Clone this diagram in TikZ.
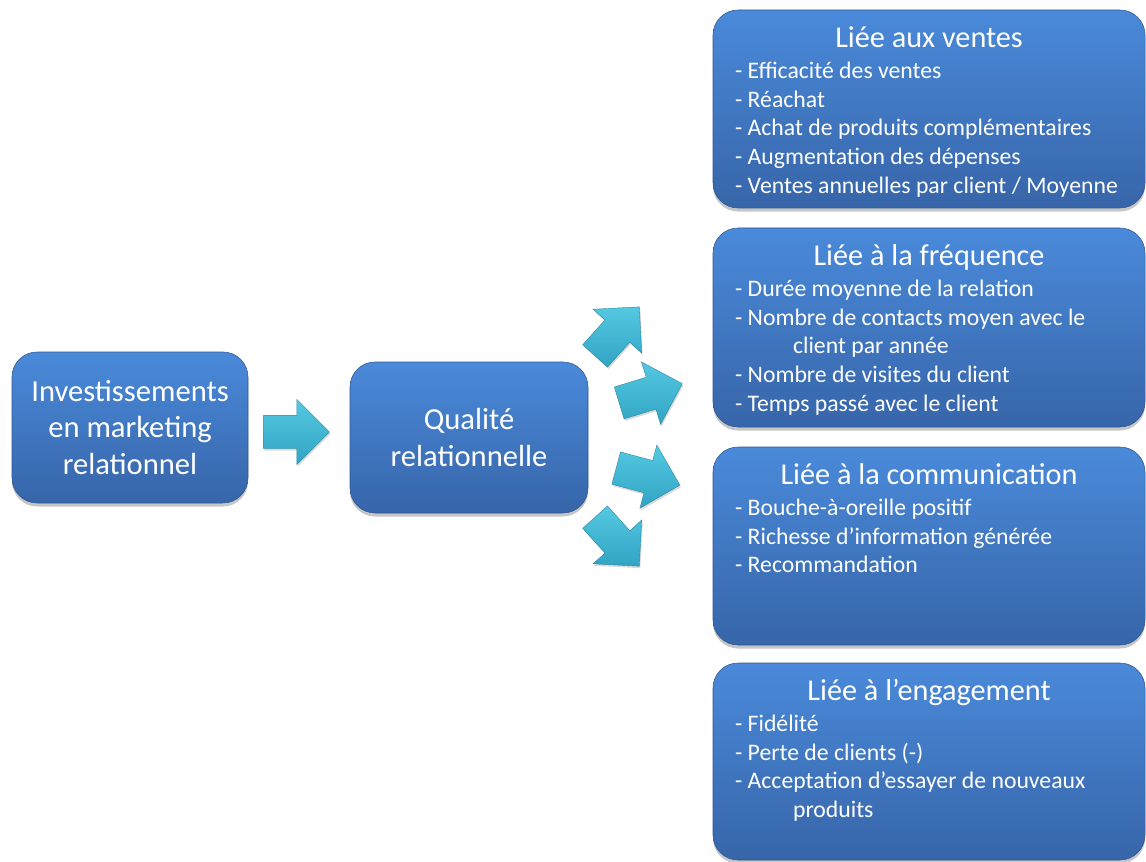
\documentclass[tikz,border=0pt]{standalone}
\usepackage{fontspec}
\setmainfont{Carlito}
\usetikzlibrary{positioning,calc,shapes.arrows,shadows}

\definecolor{boxtop}{HTML}{4A8ADA}
\definecolor{boxbot}{HTML}{3765A9}
\definecolor{fltop}{HTML}{55C8E2}
\definecolor{flbot}{HTML}{30A4C3}

\tikzset{
  bloc/.style={rectangle, rounded corners=0.5cm, top color=boxtop, bottom color=boxbot,
    draw=boxbot!85!black, line width=0.3pt,
    drop shadow={shadow xshift=0pt, shadow yshift=-0.07cm, opacity=0.45}},
  grand/.style={text=white, align=center, font=\fontsize{17.4}{21}\selectfont},
  titre/.style={text=white, inner sep=0pt, text height=0.45cm, text depth=0.12cm,
    font=\fontsize{17.2}{20}\selectfont},
  liste/.style={text=white, inner sep=0pt, align=left,
    font=\fontsize{13.5}{16.3}\selectfont},
  fleche/.style={single arrow, single arrow head extend=0.32cm, inner xsep=0pt, inner ysep=0.33cm,
    minimum height=1.32cm, anchor=tail, top color=fltop, bottom color=flbot, draw=flbot!80!black,
    line width=0.2pt, drop shadow={shadow xshift=0.02cm, shadow yshift=-0.04cm, opacity=0.3}}
}

\begin{document}
\begin{tikzpicture}
\useasboundingbox (0,0) rectangle (22.92,17.22);

% left part
\node[bloc, grand, minimum width=4.72cm, minimum height=3.02cm] (invest) at (2.60,8.67)
  {Investissements\\en marketing\\relationnel};
\node[bloc, grand, minimum width=4.76cm, minimum height=3.02cm] (qualite) at (9.38,8.47)
  {Qualité\\relationnelle};
\node[fleche] (f0) at ([xshift=0.30cm,yshift=-0.09cm]invest.east) {};

% fan of arrows
\node[fleche, rotate=48] (f1) at (11.90,10.10) {};
\node[fleche, rotate=17] (f2) at (12.38,9.16) {};
\node[fleche, rotate=-15] (f3) at (12.32,7.86) {};
\node[fleche, rotate=-48] (f4) at (11.90,6.88) {};

% right column
\node[bloc, minimum width=8.64cm, minimum height=3.96cm] (ventes) at (18.58,15.04) {};
\node[bloc, minimum width=8.64cm, minimum height=3.98cm] (frequence) at (18.58,10.67) {};
\node[bloc, minimum width=8.64cm, minimum height=3.96cm] (communication) at (18.58,6.30) {};
\node[bloc, minimum width=8.64cm, minimum height=3.94cm] (engagement) at (18.58,1.99) {};

\node[titre, below=0.30cm of ventes.north] (tventes) {Liée aux ventes};
\node[titre, below=0.30cm of frequence.north] (tfrequence) {Liée à la fréquence};
\node[titre, below=0.30cm of communication.north] (tcommunication) {Liée à la communication};
\node[titre, below=0.30cm of engagement.north] (tengagement) {Liée à l’engagement};

\node[liste, anchor=north west] (lventes) at ([xshift=0.44cm,yshift=-1.04cm]ventes.north west)
  {- Efficacité des ventes\\- Réachat\\- Achat de produits complémentaires\\- Augmentation des dépenses\\- Ventes annuelles par client / Moyenne};
\node[liste, anchor=north west] (lfrequence) at ([xshift=0.44cm,yshift=-1.04cm]frequence.north west)
  {- Durée moyenne de la relation\\- Nombre de contacts moyen avec le\\\hspace*{1.16cm}client par année\\- Nombre de visites du client\\- Temps passé avec le client};
\node[liste, anchor=north west] (lcommunication) at ([xshift=0.44cm,yshift=-1.04cm]communication.north west)
  {- Bouche-à-oreille positif\\- Richesse d’information générée\\- Recommandation};
\node[liste, anchor=north west] (lengagement) at ([xshift=0.44cm,yshift=-1.04cm]engagement.north west)
  {- Fidélité\\- Perte de clients (-)\\- Acceptation d’essayer de nouveaux\\\hspace*{1.16cm}produits};
\end{tikzpicture}
\end{document}
